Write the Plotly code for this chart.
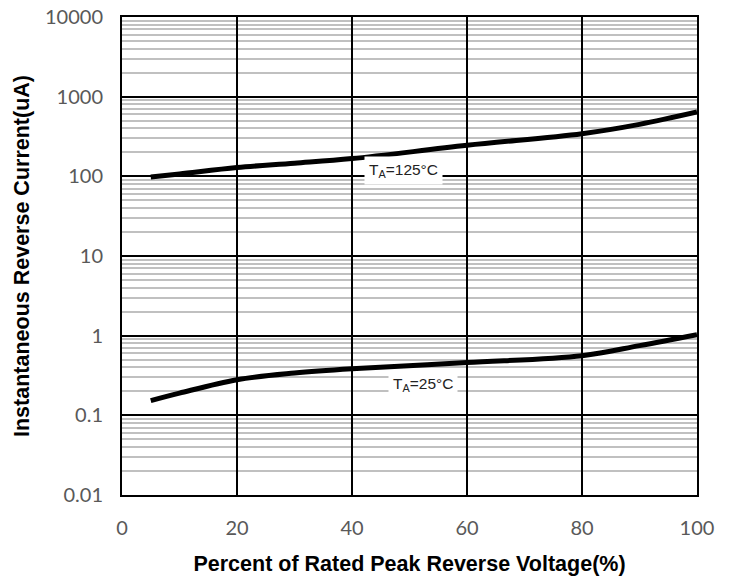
import plotly.graph_objects as go

# Data
voltage_pct = [5, 10, 20, 30, 40, 60, 80, 90, 100]
current_125c = [98, 107, 129, 146, 167, 245, 343, 449, 641]
current_25c = [0.153, 0.19, 0.28, 0.34, 0.385, 0.46, 0.56, 0.75, 1.03]

x_ticks = [0, 20, 40, 60, 80, 100]
y_ticks = [0.01, 0.1, 1, 10, 100, 1000, 10000]
y_tick_text = ["0.01", "0.1", "1", "10", "100", "1000", "10000"]
minor_vals = [m * 10 ** e for e in range(-2, 4) for m in range(2, 10)]

x_title = "<b>Percent of Rated Peak Reverse Voltage(%)</b>"
y_title = "<b>Instantaneous Reverse Current(uA)</b>"
label_125 = "T<sub>A</sub>=125°C"
label_25 = "T<sub>A</sub>=25°C"

fig = go.Figure()
fig.add_trace(go.Scatter(x=voltage_pct, y=current_125c, mode="lines",
                         line=dict(color="black", width=5, shape="spline"),
                         showlegend=False, hoverinfo="skip"))
fig.add_trace(go.Scatter(x=voltage_pct, y=current_25c, mode="lines",
                         line=dict(color="black", width=5, shape="spline"),
                         showlegend=False, hoverinfo="skip"))

tick_font = dict(family="Lato, Open Sans, sans-serif", size=20, color="#595959")
title_font = dict(family="Liberation Sans, Arial, sans-serif", size=21.5, color="black")
label_font = dict(family="Liberation Sans, Arial, sans-serif", size=15.5, color="#222222")

fig.update_layout(
    width=735, height=576,
    margin=dict(l=122, r=38, t=17, b=81),
    paper_bgcolor="white", plot_bgcolor="white",
    xaxis=dict(range=[0, 100], tickmode="array", tickvals=x_ticks,
               showgrid=True, gridcolor="black", gridwidth=1.5,
               showline=True, linecolor="black", linewidth=2, mirror=True,
               zeroline=False, ticks="", tickfont=tick_font, ticklabelstandoff=14,
               automargin=False, ticklabeloverflow="allow",
               title=dict(text=x_title, font=title_font, standoff=19)),
    yaxis=dict(type="log", range=[-2, 4], tickmode="array", tickvals=y_ticks,
               ticktext=y_tick_text,
               showgrid=True, gridcolor="black", gridwidth=1.5,
               showline=True, linecolor="black", linewidth=2, mirror=True,
               zeroline=False, ticks="", tickfont=tick_font, ticklabelstandoff=13,
               automargin=False, ticklabeloverflow="allow",
               minor=dict(tickvals=minor_vals, showgrid=True,
                          gridcolor="#c0c0c0", gridwidth=1.5, ticks="")),
    annotations=[
        dict(x=0, y=0.5, xref="paper", yref="paper", text=y_title, showarrow=False,
             font=title_font, textangle=-90, xanchor="center", yanchor="middle",
             xshift=-100),
        dict(x=49, y=2.075, xref="x", yref="y", text=label_125, showarrow=False,
             font=label_font, bgcolor="white", borderpad=4,
             xanchor="center", yanchor="middle"),
        dict(x=52.3, y=-0.615, xref="x", yref="y", text=label_25, showarrow=False,
             font=label_font, bgcolor="white", borderpad=4,
             xanchor="center", yanchor="middle"),
    ],
)

fig.write_html("out.html", config={"displayModeBar": False},
               post_script="document.body.style.margin='0';document.body.style.overflow='hidden';")
